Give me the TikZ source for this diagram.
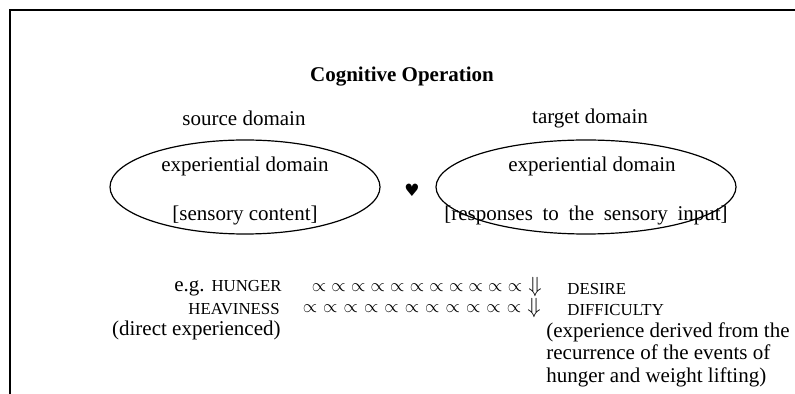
\documentclass[tikz,border=0pt]{standalone}
\usepackage{fontspec}
\setmainfont{Liberation Serif}
\newfontfamily\dejavu{DejaVu Sans}
\usetikzlibrary{positioning,shapes.geometric}

\begin{document}
\begin{tikzpicture}[x=0.5pt, y=-0.5pt, font=\fontsize{10.5}{11.3}\selectfont,
  dom/.style={draw, ellipse, line width=0.6pt, minimum width=135pt, minimum height=47pt, inner sep=0pt},
  txt/.style={inner sep=0pt},
  sc/.style={font=\fontsize{8.4}{10}\selectfont, inner sep=0pt},
  prop/.style={font=\fontsize{9}{10}\selectfont, inner sep=0pt}]
\useasboundingbox (0,0) rectangle (795,394);
\coordinate (tr) at (795,10); \coordinate (tl) at (10,10); \coordinate (bl) at (10,394);
\draw[line width=1pt] (tr) -- (tl) -- (bl);
\node[txt, font=\fontsize{10.5}{12}\selectfont\bfseries] (title) at (402,77) {Cognitive Operation};
% the two domains
\node[txt] (srclab) at (244,118) {source domain};
\node[txt] (tgtlab) at (590,118) {target domain};
\node[dom] (srcell) at (245,187) {};
\node[dom, minimum width=150pt] (tgtell) at (586,187) {};
\node[txt] (srcexp) at (245,166) {experiential domain};
\node[txt] (srcsens) at (245,215) {[sensory content]};
\node[txt] (tgtexp) at (592,166) {experiential domain};
\node[txt] (tgtresp) at (586,215) {\spaceskip=4.8pt [responses to the sensory input]};
\node[txt, font=\dejavu\fontsize{8.5}{9}\selectfont] (heart) at (412,190) {♥};
% the mapping rows
\node[txt, anchor=east] (hunger) at (282,288) {e.g. {\fontsize{8.4}{10}\selectfont HUNGER}};
\foreach \i in {0,...,10} \node[prop] (pa\i) at ({319+19.6*\i},288) {$\propto$};
\node[prop, font=\fontsize{10.5}{12}\selectfont] (da) at (535,287) {$\Downarrow$};
\node[sc, anchor=west] (desire) at (567,289) {DESIRE};
\node[sc, anchor=east] (heavy) at (280,309) {HEAVINESS};
\foreach \i in {0,...,10} \node[prop] (pb\i) at ({310+20.4*\i},309) {$\propto$};
\node[prop, font=\fontsize{10.5}{12}\selectfont] (db) at (534,308) {$\Downarrow$};
\node[sc, anchor=west] (diffic) at (567,310) {DIFFICULTY};
\node[txt, anchor=east] (direct) at (281,330) {(direct experienced)};
\node[txt, anchor=north west, align=left] (deriv) at (546,322) {(experience derived from the\\ recurrence of the events of\\ hunger and weight lifting)};
\end{tikzpicture}
\end{document}
